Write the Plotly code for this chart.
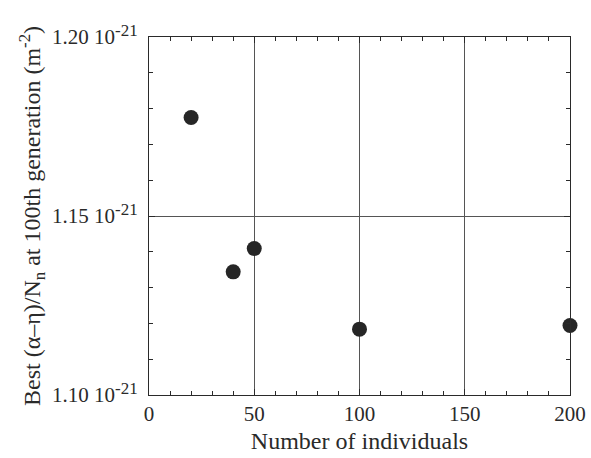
import plotly.graph_objects as go

# Data (y in units of 1e-21 m^-2)
individuals = [20, 40, 50, 100, 200]
best_value = [1.1775, 1.1344, 1.1409, 1.1184, 1.1194]

x_ticks = [0, 50, 100, 150, 200]
y_ticks = [1.10, 1.15, 1.20]
y_ticktext = [
    "1.10 10<sup><span style='font-size:17px'>-21</span></sup>",
    "1.15 10<sup><span style='font-size:17px'>-21</span></sup>",
    "1.20 10<sup><span style='font-size:17px'>-21</span></sup>",
]

FONT = "Liberation Serif"
INK = "#2a2a2a"

fig = go.Figure()
fig.add_trace(go.Scatter(
    x=individuals, y=best_value, mode="markers",
    marker=dict(size=15, color="#262626"),
    cliponaxis=False, showlegend=False,
))

fig.update_layout(
    width=591, height=458,
    margin=dict(l=149, r=21, t=37, b=63),
    paper_bgcolor="white", plot_bgcolor="white",
    font=dict(family=FONT, size=21, color=INK),
)

fig.update_xaxes(
    range=[0, 200], tickvals=x_ticks, ticktext=[str(v) for v in x_ticks],
    showline=True, linecolor=INK, linewidth=1.2, mirror="ticks",
    ticks="inside", ticklen=6, tickcolor=INK,
    showgrid=True, gridcolor="#555555", gridwidth=1,
    zeroline=False, automargin=False,
    minor=dict(dtick=10, tick0=0, ticks="inside", ticklen=4, tickcolor=INK, showgrid=False),
    title=dict(text="Number of individuals", font=dict(family=FONT, size=24, color=INK), standoff=6),
    tickfont=dict(family=FONT, size=21, color=INK),
)
fig.update_yaxes(
    range=[1.10, 1.20], tickvals=y_ticks, ticktext=y_ticktext,
    showline=True, linecolor=INK, linewidth=1.2, mirror="ticks",
    ticks="inside", ticklen=6, tickcolor=INK,
    showgrid=True, gridcolor="#555555", gridwidth=1,
    zeroline=False, automargin=False,
    minor=dict(dtick=0.01, tick0=1.10, ticks="inside", ticklen=4, tickcolor=INK, showgrid=False),
    title=dict(text="Best (α\u2013η)/N<sub>n</sub> at 100th generation (m<sup>-2</sup>)",
               font=dict(family=FONT, size=24, color=INK), standoff=4),
    tickfont=dict(family=FONT, size=21, color=INK),
    ticklabelstandoff=6,
)

fig.write_html("out.html")
